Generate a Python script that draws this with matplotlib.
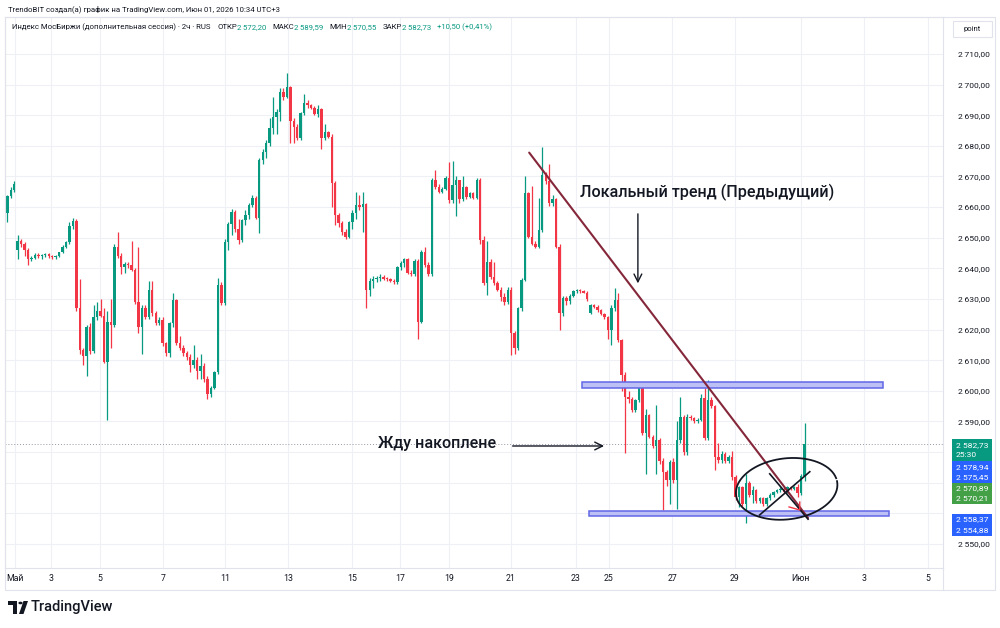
import matplotlib
matplotlib.use("Agg")
import matplotlib.pyplot as plt
from matplotlib.patches import Rectangle, Polygon, Circle
from matplotlib.lines import Line2D
import numpy as np

# ---------------- data (2h candles, Индекс МосБиржи) ----------------
opens = [
    2658, 2663.5, 2665.5, 2646, 2649, 2648, 2646, 2643, 2643.5, 2644.5,
    2644, 2644.3, 2644.6, 2644, 2643.6, 2644.1, 2645.2, 2647, 2648.5, 2653.8,
    2655.5, 2627, 2613.5, 2611.5, 2621, 2613, 2624, 2626, 2624.5, 2609.5,
    2622.5, 2621.5, 2647, 2644, 2640.5, 2641.5, 2641, 2639.5, 2629, 2621,
    2627, 2624, 2633, 2625.3, 2622, 2623, 2615.5, 2612.3, 2622, 2629.7,
    2615.5, 2614, 2612.3, 2611, 2608.5, 2610, 2606.5, 2608, 2604, 2599,
    2601, 2606, 2634.6, 2628.6, 2648.7, 2654.5, 2658.5, 2653, 2649.3, 2655.8,
    2657.5, 2660.7, 2663, 2656.3, 2675.4, 2678.1, 2680.8, 2685.7, 2689.5, 2691,
    2697.5, 2696, 2699.1, 2688, 2686, 2682.5, 2690.6, 2693.9, 2693.2, 2692.4,
    2690.5, 2692, 2682.5, 2684.6, 2683, 2667.8, 2657.4, 2654.7, 2652, 2650.4,
    2655, 2658, 2660.7, 2660, 2661, 2632.9, 2636, 2636.5, 2636.8, 2637.3,
    2636.6, 2636.4, 2636, 2635.5, 2640.5, 2641.6, 2643, 2638.4, 2638, 2642.5,
    2622.6, 2645.5, 2641.1, 2638, 2668.9, 2666.7, 2665, 2666, 2669.4, 2662.3,
    2667.2, 2668.8, 2662.5, 2666.5, 2663.2, 2664.5, 2663, 2669, 2649.3, 2635.1,
    2642.2, 2637.3, 2635.1, 2633, 2630.5, 2629, 2633, 2618.8, 2614, 2627,
    2636.2, 2664.5, 2650.4, 2648, 2647, 2652.5, 2670.5, 2668.5, 2661.2, 2662.5,
    2647.1, 2625.3, 2630.2, 2629.5, 2631, 2632.5, 2632.8, 2632.5, 2632, 2625.5,
    2628, 2627.5, 2626.3, 2625.2, 2624.2, 2620, 2627, 2629.7, 2616.6, 2605.2,
    2598.1, 2597.5, 2593.8, 2597, 2601.4, 2586.1, 2592.1, 2585, 2582, 2584,
    2577, 2573.6, 2570.9, 2576.9, 2571, 2584, 2591.6, 2580, 2591.5, 2591,
    2590, 2590.5, 2597.6, 2584.5, 2597, 2595, 2578.5, 2577.5, 2579.5, 2577,
    2578.5, 2572, 2565.5, 2568.5, 2563, 2570, 2566, 2567.6, 2564, 2565,
    2563, 2565, 2566, 2567, 2567.5, 2568, 2567, 2568.5, 2568, 2568.5, 2566.5, 2572.2,
]
highs = [
    2664, 2666.5, 2668.5, 2651, 2649.5, 2648.5, 2646.5, 2644, 2645, 2645,
    2644.8, 2645, 2645, 2644.5, 2644.5, 2645.5, 2647.5, 2649, 2655, 2656.5,
    2656, 2636.5, 2614, 2621.5, 2622, 2628, 2629, 2630, 2627, 2626,
    2630, 2648, 2652, 2645, 2642, 2642, 2649, 2640, 2647, 2628,
    2628, 2636, 2636, 2626, 2624, 2624, 2616, 2622.5, 2632, 2630,
    2618, 2615, 2613, 2612, 2615, 2611, 2612, 2609, 2605, 2601.5,
    2606.5, 2637, 2635.5, 2649.5, 2655, 2659.5, 2659, 2656, 2656, 2659,
    2661.5, 2664, 2663.5, 2676, 2679, 2682, 2689, 2696, 2692, 2699,
    2699, 2703.7, 2699.5, 2689, 2687, 2691, 2697, 2695, 2693.8, 2693,
    2693.5, 2692.5, 2687, 2685, 2684, 2668.5, 2658, 2655.5, 2653, 2655.5,
    2659, 2665, 2664, 2665, 2661.5, 2637, 2637.5, 2637.5, 2638, 2637.8,
    2637.2, 2637, 2636.5, 2640.8, 2642.5, 2643.5, 2643.5, 2639.5, 2643, 2643,
    2646, 2647, 2642, 2669.5, 2672, 2667.5, 2666.5, 2670, 2674.8, 2675,
    2670, 2669, 2670, 2667, 2665, 2665, 2669.5, 2669.5, 2650.5, 2649,
    2643, 2642, 2636, 2634, 2632, 2634, 2634, 2619.5, 2627.5, 2637,
    2670, 2665, 2667, 2649, 2663, 2679.7, 2671.5, 2674, 2664, 2663,
    2648, 2631, 2631, 2631.5, 2633, 2633.2, 2633.2, 2633, 2632.5, 2628.5,
    2628.5, 2628, 2626.8, 2625.5, 2624.5, 2628, 2633.5, 2632, 2617, 2606,
    2600, 2598, 2597.5, 2602, 2602, 2594, 2592.5, 2585.5, 2595.4, 2584.5,
    2578, 2574, 2577.5, 2578, 2590, 2598, 2592, 2592.5, 2592, 2591.5,
    2591, 2599, 2601, 2603.6, 2598, 2595.5, 2583, 2580.5, 2580, 2579,
    2580.5, 2572.5, 2569, 2569, 2573, 2570.5, 2569, 2568, 2565.5, 2565.5,
    2565.5, 2566.5, 2567.2, 2568, 2568.5, 2568.5, 2568.8, 2569, 2569, 2569.5, 2573, 2589.59,
]
lows = [
    2655, 2663, 2665, 2643, 2647, 2644, 2641, 2642.5, 2643, 2643.5,
    2643.2, 2643.8, 2643.5, 2643, 2643.2, 2643.8, 2645, 2646.5, 2648, 2653,
    2626, 2612, 2608.5, 2605, 2612, 2612.5, 2623, 2624, 2609, 2590.5,
    2614, 2621, 2643.5, 2638, 2638.5, 2640, 2639, 2628.5, 2619, 2612,
    2623.5, 2623.5, 2624.5, 2621.5, 2621.5, 2614.5, 2611.5, 2611, 2621, 2615,
    2613.5, 2611.5, 2610, 2606, 2607.5, 2604, 2604, 2603, 2597.3, 2598,
    2600.5, 2605.5, 2628, 2628, 2646, 2651, 2652, 2648, 2648.5, 2654,
    2656, 2660, 2656, 2651.4, 2674, 2676, 2680, 2684, 2684, 2688,
    2695, 2695.5, 2681, 2681, 2682, 2682, 2690, 2692.5, 2692, 2690,
    2689.5, 2679, 2682, 2682.5, 2660, 2654, 2653.5, 2651, 2649.5, 2650,
    2653, 2656, 2659, 2652, 2627, 2631, 2633.5, 2635.5, 2636, 2636.2,
    2635.8, 2635.5, 2635, 2635, 2639.5, 2640.5, 2638, 2637.5, 2637.5, 2617,
    2622, 2640.5, 2637.5, 2637.5, 2666, 2664.5, 2664.5, 2665.5, 2661.5, 2661.5,
    2657, 2661.5, 2662, 2662.5, 2663, 2662.5, 2662.5, 2648, 2634.5, 2631.3,
    2636.5, 2634.5, 2632.5, 2629.5, 2628, 2628.5, 2611.7, 2612, 2613.5, 2626,
    2636, 2650, 2647.5, 2646.5, 2646.5, 2652, 2667.5, 2660.5, 2660.5, 2646.5,
    2620, 2624.5, 2628, 2628.5, 2630.5, 2632, 2632, 2631.8, 2629.5, 2625,
    2627, 2625.8, 2624.8, 2623.5, 2617, 2615, 2626, 2616, 2600, 2579.6,
    2596, 2593, 2593, 2596.5, 2585.5, 2573, 2584.5, 2581.5, 2573, 2576,
    2561, 2569, 2563, 2570, 2561.5, 2583, 2579, 2579, 2590.5, 2589.5,
    2589.5, 2590, 2584, 2584, 2594.5, 2574, 2576.5, 2576.5, 2576.5, 2576.5,
    2571, 2564.5, 2562, 2562.5, 2556.8, 2565.5, 2563.5, 2563.5, 2563.5, 2562.5,
    2562.5, 2564.5, 2565.5, 2566.5, 2567, 2566.5, 2566.5, 2567.5, 2567.5, 2565.5, 2566, 2570.55,
]
closes = [
    2663.5, 2665.5, 2667.5, 2649, 2648, 2646, 2643, 2643.5, 2644.5, 2644,
    2644.3, 2644.6, 2644, 2643.6, 2644.1, 2645.2, 2647, 2648.5, 2653.8, 2655.5,
    2627, 2613.5, 2611.5, 2621, 2613, 2624, 2626, 2624.5, 2609.5, 2622.5,
    2621.5, 2647, 2644, 2640.5, 2641.5, 2641, 2639.5, 2629, 2621, 2627,
    2624, 2633, 2625.3, 2622, 2623, 2615.5, 2612.3, 2622, 2629.7, 2615.5,
    2614, 2612.3, 2611, 2608.5, 2610, 2606.5, 2608, 2604, 2599, 2601,
    2606, 2634.6, 2628.6, 2648.7, 2654.5, 2658.5, 2653, 2649.3, 2655.8, 2657.5,
    2660.7, 2663, 2656.3, 2675.4, 2678.1, 2680.8, 2685.7, 2689.5, 2691, 2697.5,
    2696, 2699.1, 2688, 2686, 2682.5, 2690.6, 2693.9, 2693.2, 2692.4, 2690.5,
    2692, 2682.5, 2684.6, 2683, 2667.8, 2657.4, 2654.7, 2652, 2650.4, 2655,
    2658, 2660.7, 2660, 2661, 2632.9, 2636, 2636.5, 2636.8, 2637.3, 2636.6,
    2636.4, 2636, 2635.5, 2640.5, 2641.6, 2643, 2638.4, 2638, 2642.5, 2622.6,
    2645.5, 2641.1, 2638, 2668.9, 2666.7, 2665, 2666, 2669.4, 2662.3, 2667.2,
    2668.8, 2662.5, 2666.5, 2663.2, 2664.5, 2663, 2669, 2649.3, 2635.1, 2642.2,
    2637.3, 2635.1, 2633, 2630.5, 2629, 2633, 2618.8, 2614, 2627, 2636.2,
    2664.5, 2650.4, 2648, 2647, 2652.5, 2670.5, 2668.5, 2661.2, 2662.5, 2647.1,
    2625.3, 2630.2, 2629.5, 2631, 2632.5, 2632.8, 2632.5, 2632, 2630, 2628,
    2627.5, 2626.3, 2625.2, 2624.2, 2620, 2627, 2629.7, 2616.6, 2605.2, 2598.1,
    2597.5, 2593.8, 2597, 2601.4, 2586.1, 2592.1, 2585, 2582, 2584, 2577,
    2573.6, 2570.9, 2576.9, 2571, 2584, 2591.6, 2580, 2591.5, 2591, 2590,
    2590.5, 2597.6, 2584.5, 2597, 2595, 2578.5, 2577.5, 2579.5, 2577, 2578.5,
    2572, 2565.5, 2568.5, 2563, 2570, 2566, 2567.6, 2564, 2565, 2563,
    2565, 2566, 2567, 2567.5, 2568, 2567, 2568.5, 2568, 2568.5, 2566.5, 2572.23, 2582.73,
]

tick_pos = [2.2, 12.7, 26.9, 45.1, 63.1, 81.3, 99.8, 113.8, 127.9, 145.9,
            164.7, 174.3, 192.6, 210.8, 229.9, 248.2, 266.7]
tick_labels = ["Май", "3", "5", "7", "11", "13", "15", "17", "19", "21",
               "23", "25", "27", "29", "Июн", "3", "5"]
price_ticks = list(range(2550, 2711, 10))
hidden_price_ticks = [2560, 2570, 2580]   # covered by the scale labels

# extra labels shown on the price scale (value text, box colour)
scale_boxes = [
    (["2 582,73", "25:30"], "#089981"),
    (["2 578,94", "2 575,45"], "#2962ff"),
    (["2 570,89", "2 570,21"], "#43a047"),
    (["2 558,37", "2 554,88"], "#2962ff"),
]
zone_top = (2600.9, 2602.9)
zone_bottom = (2559.2, 2560.9)

# ---------------- styling ----------------
UP, DN = "#089981", "#f23645"
TXT = "#131722"
UI = ["Roboto", "DejaVu Sans"]
plt.rcParams["font.family"] = UI

W, H = 1000, 628
fig = plt.figure(figsize=(W / 100, H / 100), dpi=100)
fig.patch.set_facecolor("white")

def FX(px):
    return px / W

def FY(py):
    return 1 - py / H

AX_L, AX_R, AX_T, AX_B = 5, 943, 17, 568
ax = fig.add_axes([FX(AX_L), FY(AX_B), (AX_R - AX_L) / W, (AX_B - AX_T) / H])
ax.set_xlim(-0.67, 271.1)
ax.set_ylim(2542.16, 2722.08)
ax.set_facecolor("white")

def fmt(v):
    s = f"{v:.2f}"
    ip, dp = s.split(".")
    ip = f"{int(ip):,}".replace(",", "\u2009")
    return ip + "," + dp

ax.set_xticks(tick_pos)
ax.set_xticklabels(tick_labels, fontsize=6.3, color=TXT)
ax.set_yticks(price_ticks)
ax.set_yticklabels(["" if v in hidden_price_ticks else fmt(v) for v in price_ticks],
                   fontsize=6.1, color=TXT)
ax.yaxis.tick_right()
ax.tick_params(axis="both", length=0)
ax.tick_params(axis="y", pad=10.5)
ax.tick_params(axis="x", pad=4.5)
ax.grid(True, color="#eef0f5", lw=0.8)
ax.set_axisbelow(True)
for sp in ax.spines.values():
    sp.set_color("#e0e3eb")
    sp.set_linewidth(0.8)

# ---------------- candles ----------------
n = min(len(opens), len(highs), len(lows), len(closes))
o = np.array(opens[:n], float)
c = np.array(closes[:n], float)
h = np.maximum(np.array(highs[:n], float), np.maximum(o, c))
l = np.minimum(np.array(lows[:n], float), np.minimum(o, c))
x = np.arange(n)
cols = np.where(c >= o, UP, DN)
ax.vlines(x, l, h, colors=cols, lw=0.9, zorder=3)
ax.bar(x, np.maximum(np.abs(c - o), 0.35), bottom=np.minimum(o, c), width=0.7,
       color=cols, linewidth=0, zorder=4)

# last price dotted line
ax.axhline(c[-1], color="#9598a1", lw=0.7, ls=(0, (1, 2)), zorder=2)

# ---------------- drawings ----------------
for (lo, hi), (x0, x1) in [(zone_top, (166.4, 253.7)), (zone_bottom, (168.5, 255.5))]:
    ax.add_patch(Rectangle((x0, lo), x1 - x0, hi - lo, facecolor="#bcc0f5",
                           edgecolor="#6267e6", lw=1.1, zorder=5))

ax.plot([151.2, 232.0], [2677.8, 2558.5], color="#85273a", lw=1.5, zorder=6,
        solid_capstyle="round")

ax.text(165.9, 2664.9, "Локальный тренд (Предыдущий)", fontsize=11.6,
        fontweight="medium", color=TXT, va="center", ha="left", zorder=7)
ax.text(107.4, 2582.7, "Жду накоплене", fontsize=11.6, fontweight="medium",
        color=TXT, va="center", ha="left", zorder=7)
ax.annotate("", xy=(182.7, 2634.2), xytext=(182.7, 2658.7),
            arrowprops=dict(arrowstyle="->", lw=1.0, color=TXT, mutation_scale=14),
            zorder=7)
ax.annotate("", xy=(173.7, 2582.0), xytext=(145.6, 2582.0),
            arrowprops=dict(arrowstyle="->", lw=1.0, color=TXT, mutation_scale=14),
            zorder=7)

# hand-drawn ellipse (drawn in pixel space, mapped back to data)
fig.canvas.draw()
cx, cy = ax.transData.transform((225.8, 2568.0))
t = np.linspace(0.15, 2 * np.pi + 0.05, 240)
a_, b_, th = 51.0, 30.5, np.deg2rad(7)
ex = cx + a_ * np.cos(t) * np.cos(th) - b_ * np.sin(t) * np.sin(th)
ey = cy + a_ * np.cos(t) * np.sin(th) + b_ * np.sin(t) * np.cos(th)
pts = ax.transData.inverted().transform(np.column_stack([ex, ey]))
ax.plot(pts[:, 0], pts[:, 1], color=TXT, lw=1.3, zorder=8)
ax.plot([218.0, 232.5], [2559.5, 2573.6], color=TXT, lw=1.2, zorder=8)
ax.plot([220.9, 232.0], [2572.9, 2558.1], color=TXT, lw=1.2, zorder=8)
ax.plot([226.5, 229.6, 229.6], [2562.1, 2561.1, 2563.7], color="#f23645", lw=1.0, zorder=8)

# ---------------- frame & price-scale decorations ----------------
fig.add_artist(Rectangle((FX(5), FY(590)), (995 - 5) / W, (590 - 17) / H,
                         transform=fig.transFigure, fill=False,
                         edgecolor="#e0e3eb", lw=0.8, zorder=1))
fig.add_artist(Line2D([FX(943), FX(943)], [FY(568), FY(590)],
                      transform=fig.transFigure, color="#e0e3eb", lw=0.8))

# "point" box
fig.add_artist(Rectangle((FX(953), FY(37)), 39 / W, 16 / H, transform=fig.transFigure,
                         facecolor="white", edgecolor="#e0e3eb", lw=0.8, zorder=2))
fig.text(FX(972.5), FY(29), "point", fontsize=5.5, color=TXT, ha="center",
         va="center", zorder=3)

box_rows = [(439, 461, [445, 455]), (461, 483, [467, 477]),
            (483, 503.5, [488, 498]), (513.5, 536, [519, 530])]
for (texts, col), (y0, y1, ys) in zip(scale_boxes, box_rows):
    fig.add_artist(Rectangle((FX(952), FY(y1)), 40 / W, (y1 - y0) / H,
                             transform=fig.transFigure, facecolor=col,
                             edgecolor=col, lw=0, zorder=4))
    for s, yy in zip(texts, ys):
        fig.text(FX(956), FY(yy), s, fontsize=6.1, color="white", ha="left",
                 va="center", zorder=5)

# ---------------- header ----------------
fig.text(FX(8), FY(9), "TrendoBIT создал(а) график на TradingView.com, Июн 01, 2026 10:34 UTC+3",
         fontsize=5.6, color=TXT, ha="left", va="center")

renderer = fig.canvas.get_renderer()
chg = c[-1] - c[-2]
pct = chg / c[-2] * 100
pieces = [
    ("Индекс МосБиржи (дополнительная сессия) · 2ч · RUS", TXT, 7),
    ("ОТКР", TXT, 0), (fmt(o[-1]), UP, 6),
    ("МАКС", TXT, 0), (fmt(h[-1]), UP, 6),
    ("МИН", TXT, 0), (fmt(l[-1]), UP, 6),
    ("ЗАКР", TXT, 0), (fmt(c[-1]), UP, 6),
    (("+" if chg >= 0 else "") + fmt(chg) + " (" + ("+" if pct >= 0 else "") + fmt(pct) + "%)", UP, 0),
]
xp = 12.0
for s, col, gap in pieces:
    tt = fig.text(FX(xp), FY(27), s, fontsize=5.6, color=col, ha="left", va="center")
    bb = tt.get_window_extent(renderer)
    xp += bb.width + gap

# ---------------- TradingView logo ----------------
fig.add_artist(Polygon([(FX(8), FY(601)), (FX(17), FY(601)), (FX(17), FY(614)),
                        (FX(13), FY(614)), (FX(13), FY(605)), (FX(8), FY(605))],
                       closed=True, transform=fig.transFigure, facecolor=TXT,
                       edgecolor="none"))
fig.add_artist(Circle((FX(20.5), FY(603)), 2.1 / W, transform=fig.transFigure,
                      facecolor=TXT, edgecolor="none"))
fig.add_artist(Polygon([(FX(19), FY(614)), (FX(23.5), FY(614)), (FX(28), FY(601)),
                        (FX(23.5), FY(601))], closed=True, transform=fig.transFigure,
                       facecolor=TXT, edgecolor="none"))
fig.text(FX(31), FY(607.5), "TradingView", fontsize=10.5, fontweight="medium",
         color=TXT, ha="left", va="center")

fig.savefig("out.png", dpi=100, facecolor="white")
